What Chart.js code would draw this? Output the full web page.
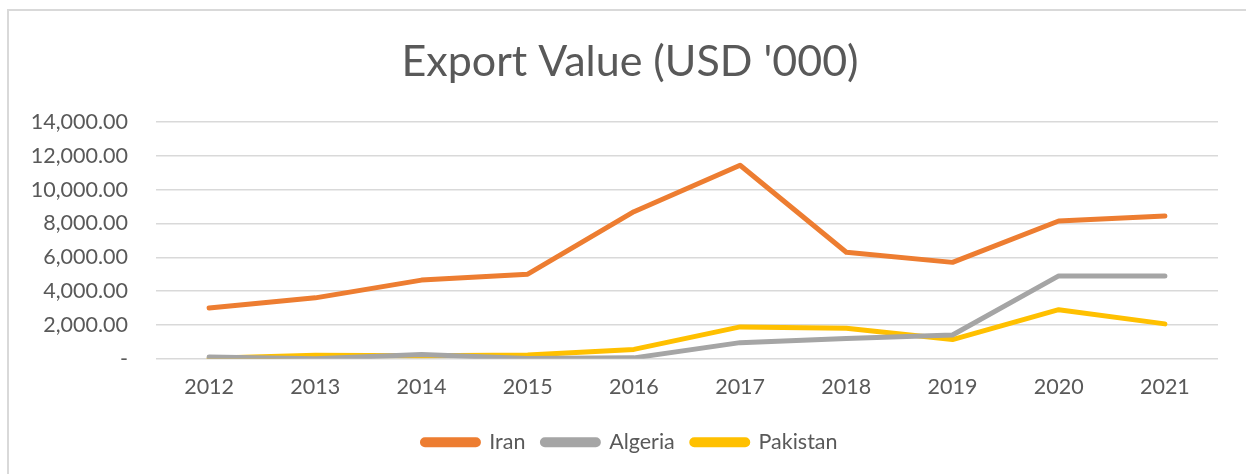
<!DOCTYPE html>
<html>
<head>
<meta charset="utf-8">
<script src="https://cdn.jsdelivr.net/npm/chart.js@4/dist/chart.umd.min.js"></script>
<style>
  html, body { margin: 0; padding: 0; background: #fff; overflow: hidden; }
  #frame { position: absolute; left: 7px; top: 9px; width: 1400px; height: 700px; border: 2px solid #d9d9d9; box-sizing: border-box; }
  #wrap { position: absolute; left: 0; top: 0; width: 1246px; height: 474px; }
</style>
</head>
<body>
<div id="frame"></div>
<div id="wrap"><canvas id="c"></canvas></div>
<script>
const categories = ['2012','2013','2014','2015','2016','2017','2018','2019','2020','2021'];
const iran = [3000, 3600, 4650, 5000, 8700, 11450, 6300, 5700, 8150, 8450];
const algeria = [100, 0, 250, 10, 50, 950, 1200, 1400, 4900, 4900];
const pakistan = [30, 200, 180, 220, 550, 1880, 1800, 1130, 2900, 2060];
const seriesNames = ['Iran', 'Algeria', 'Pakistan'];
const yTicks = [0, 2000, 4000, 6000, 8000, 10000, 12000, 14000];
const titleText = "Export Value (USD '000)";

const textColor = '#595959';
const fontFamily = 'Lato, "Open Sans", sans-serif';

function fmt(v) {
  if (v === 0) return '-';
  return v.toLocaleString('en-US', { minimumFractionDigits: 2, maximumFractionDigits: 2 });
}

const lineStyle = { borderWidth: 5, pointRadius: 0, pointHoverRadius: 0, tension: 0, borderCapStyle: 'round', borderJoinStyle: 'round', fill: false };

new Chart(document.getElementById('c'), {
  type: 'line',
  data: {
    labels: categories,
    datasets: [
      Object.assign({ label: seriesNames[0], data: iran, borderColor: '#ED7D31', backgroundColor: '#ED7D31' }, lineStyle),
      Object.assign({ label: seriesNames[1], data: algeria, borderColor: '#A5A5A5', backgroundColor: '#A5A5A5' }, lineStyle),
      Object.assign({ label: seriesNames[2], data: pakistan, borderColor: '#FFC000', backgroundColor: '#FFC000' }, lineStyle)
    ]
  },
  options: {
    responsive: true,
    maintainAspectRatio: false,
    animation: false,
    layout: { padding: { left: 22, right: 8, top: 30, bottom: 11 } },
    plugins: {
      title: {
        display: true,
        text: titleText,
        color: textColor,
        font: { family: fontFamily, size: 43, weight: 'normal' },
        padding: { top: 6.5, bottom: 34 }
      },
      legend: {
        position: 'bottom',
        labels: {
          color: textColor,
          font: { family: fontFamily, size: 21.5 },
          boxWidth: 56,
          boxHeight: 5,
          useBorderRadius: true,
          borderRadius: 2.5,
          padding: 17
        }
      },
      tooltip: { enabled: false }
    },
    scales: {
      x: {
        offset: true,
        grid: { display: false, drawTicks: false },
        border: { display: false },
        ticks: { color: textColor, font: { family: fontFamily, size: 21.5 }, padding: 15, maxRotation: 0 }
      },
      y: {
        min: 0,
        max: 14000,
        afterBuildTicks: (axis) => { axis.ticks = yTicks.map(v => ({ value: v })); },
        afterFit: (axis) => { axis.width = 134; },
        grid: { color: '#d9d9d9', lineWidth: 1.5, drawTicks: false },
        border: { display: false },
        ticks: { color: textColor, font: { family: fontFamily, size: 21.5 }, padding: 28, callback: (v) => fmt(v) }
      },
      yRight: {
        position: 'right',
        display: true,
        min: 0,
        max: 14000,
        afterFit: (axis) => { axis.width = 20; },
        grid: { display: false, drawTicks: false },
        border: { display: false },
        ticks: { display: false }
      }
    }
  }
});
</script>
</body>
</html>
